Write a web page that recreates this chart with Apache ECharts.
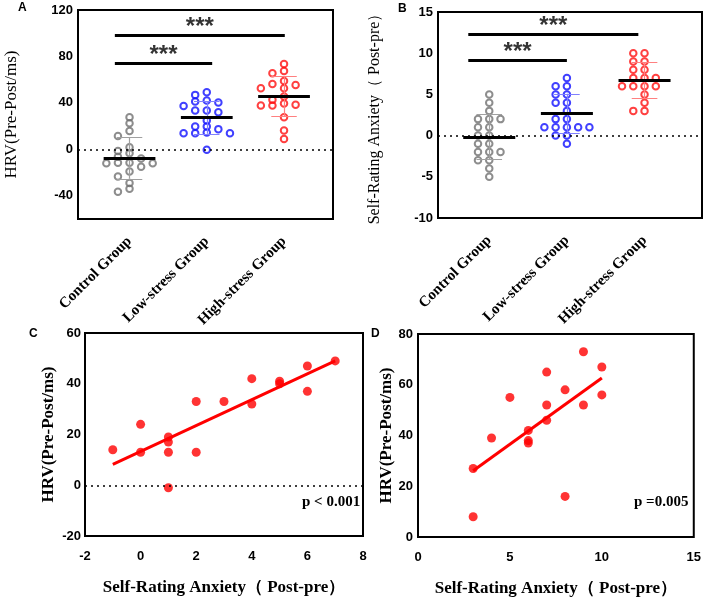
<!DOCTYPE html>
<html>
<head>
<meta charset="utf-8">
<script src="https://cdn.jsdelivr.net/npm/echarts@6/dist/echarts.min.js"></script>
<style>
html, body { margin: 0; padding: 0; background: #fff; }
#chart { width: 704px; height: 600px; }
</style>
</head>
<body>
<div id="chart"></div>
<script>
// groups on the dot plots
var groups = ['Control Group', 'Low-stress Group', 'High-stress Group'];

// panel A: HRV (pre-post, ms)
var hrvControl = [27.6, 22.4, 15.8, 11.5, 1.7, -1.4, -3.4, -6.3, -7.8, -11.5, -11.5, -12, -12, -15, -19, -23.5, -29, -33.9, -36.5];
var hrvLow = [49.2, 46.9, 42, 40.3, 41.1, 37.4, 33.4, 33.4, 32, 24.8, 19.6, 19.6, 17.4, 13.9, 13.9, 13.9, 14.5, -0.4];
var hrvHigh = [73.5, 65.5, 67.5, 55.5, 56.3, 58.9, 52.6, 52.6, 45.4, 42.6, 38.3, 37.7, 37.7, 39.4, 27.7, 16.2, 8.8];

// panel B: self-rating anxiety (post-pre)
var sasControl = [5, 4, 3, 2, 2, 2, 1, 1, 0, 0, -1, -1, -2, -2, -2, -3, -3, -4, -5];
var sasLow = [7, 6, 6, 5, 5, 4, 4, 3, 2, 2, 1, 1, 1, 1, 1, 0, 0, -1];
var sasHigh = [10, 10, 9, 9, 8, 8, 7, 7, 7, 6, 6, 6, 6, 5, 4, 3, 3];

// significance brackets: [from, to, height]
var sigA = [[0.81, 2.07, 74], [0.81, 3.01, 98.5]];
var sigB = [[0.73, 2.0, 9.1], [0.73, 2.92, 12.3]];

// panel C
var cX = [-1, 0, 0, 1, 1, 1, 1, 2, 2, 3, 4, 4, 5, 5, 6, 6, 7];
var cY = [14, 24, 13, 19, 17, 13, -1, 33, 13, 33, 42, 32, 41, 40, 47, 37, 49];
// panel D
var dX = [3, 3, 4, 5, 6, 6, 6, 7, 7, 7, 8, 8, 9, 9, 10, 10];
var dY = [27, 8, 39, 55, 42, 38, 37, 65, 52, 46, 58, 16, 73, 52, 67, 56];

var pC = 'p < 0.001';
var pD = 'p =0.005';

var serif = 'Liberation Serif';
var sans = 'Liberation Sans';

function mean(a) {
    var s = 0;
    a.forEach(function (v) { s += v; });
    return s / a.length;
}

function sd(a) {
    var m = mean(a), s = 0;
    a.forEach(function (v) { s += (v - m) * (v - m); });
    return Math.sqrt(s / (a.length - 1));
}

function fit(xs, ys) {
    var mx = mean(xs), my = mean(ys), sxy = 0, sxx = 0;
    for (var i = 0; i < xs.length; i++) {
        sxy += (xs[i] - mx) * (ys[i] - my);
        sxx += (xs[i] - mx) * (xs[i] - mx);
    }
    var k = sxy / sxx;
    return {k: k, b: my - k * mx};
}

// crude beeswarm: each point goes to the closest free column
function swarm(vals, center, pxPerUnit, step, gap) {
    var sorted = vals.slice().sort(function (a, b) { return b - a; });
    var cols = {};
    var out = [];
    sorted.forEach(function (v) {
        for (var n = 0; n < 20; n++) {
            var c = n === 0 ? 0 : (n % 2 ? -(n + 1) / 2 : n / 2);
            var list = cols[c] || [];
            var free = list.every(function (u) { return Math.abs(u - v) * pxPerUnit >= gap; });
            if (free) {
                list.push(v);
                cols[c] = list;
                out.push([center + c * step, v]);
                break;
            }
        }
    });
    return out;
}

var series = [];

function dotGroup(idx, vals, g, color, light, pxPerUnit, step) {
    var m = mean(vals), s = sd(vals), cap = 0.165, half = 0.335;
    series.push({
        type: 'scatter', xAxisIndex: idx, yAxisIndex: idx,
        symbol: 'circle', symbolSize: 6.5, z: 2,
        itemStyle: {color: 'rgba(0,0,0,0)', borderColor: color, borderWidth: 2},
        data: swarm(vals, g, pxPerUnit, step, 5.5)
    });
    series.push({
        type: 'lines', coordinateSystem: 'cartesian2d', xAxisIndex: idx, yAxisIndex: idx, z: 3,
        lineStyle: {color: light, width: 1.2, opacity: 1},
        data: [
            {coords: [[g, m - s], [g, m + s]]},
            {coords: [[g - cap, m + s], [g + cap, m + s]]},
            {coords: [[g - cap, m - s], [g + cap, m - s]]}
        ]
    });
    series.push({
        type: 'lines', coordinateSystem: 'cartesian2d', xAxisIndex: idx, yAxisIndex: idx, z: 4,
        lineStyle: {color: '#000', width: 3, opacity: 1},
        data: [{coords: [[g - half, m], [g + half, m]]}]
    });
}

function sigMarks(idx, sig) {
    series.push({
        type: 'lines', coordinateSystem: 'cartesian2d', xAxisIndex: idx, yAxisIndex: idx, z: 4,
        lineStyle: {color: '#000', width: 3, opacity: 1},
        data: sig.map(function (b) { return {coords: [[b[0], b[2]], [b[1], b[2]]]}; })
    });
    series.push({
        type: 'scatter', xAxisIndex: idx, yAxisIndex: idx, symbolSize: 1, z: 5,
        itemStyle: {color: 'rgba(0,0,0,0)'},
        label: {
            show: true, position: 'inside', offset: [0, -8], formatter: '***',
            fontFamily: sans, fontWeight: 'bold', fontSize: 24, color: '#000'
        },
        data: sig.map(function (b) { return [(b[0] + b[1]) / 2, b[2]]; })
    });
}

function zeroLine() {
    return {
        silent: true, symbol: 'none', label: {show: false},
        lineStyle: {type: [2, 4], color: '#000', width: 1.5},
        data: [{yAxis: 0}]
    };
}

// panel A
dotGroup(0, hrvControl, 1, '#707070', '#a0a0a0', 209 / 180, 0.15);
dotGroup(0, hrvLow, 2, '#1010ff', '#8080ff', 209 / 180, 0.15);
dotGroup(0, hrvHigh, 3, '#ff1010', '#ff8080', 209 / 180, 0.15);
series[0].markLine = zeroLine();
sigMarks(0, sigA);

// panel B
var bStart = series.length;
dotGroup(1, sasControl, 1, '#707070', '#a0a0a0', 206 / 25, 0.145);
dotGroup(1, sasLow, 2, '#1010ff', '#8080ff', 206 / 25, 0.145);
dotGroup(1, sasHigh, 3, '#ff1010', '#ff8080', 206 / 25, 0.145);
series[bStart].markLine = zeroLine();
sigMarks(1, sigB);

// panels C and D: scatter + fitted line
function regPanel(idx, xs, ys, zero) {
    var f = fit(xs, ys);
    var x0 = Math.min.apply(null, xs), x1 = Math.max.apply(null, xs);
    var sc = {
        type: 'scatter', xAxisIndex: idx, yAxisIndex: idx, symbolSize: 9, z: 3,
        itemStyle: {color: '#ff0000'},
        data: xs.map(function (x, i) { return [x, ys[i]]; })
    };
    if (zero) sc.markLine = zeroLine();
    series.push(sc);
    series.push({
        type: 'line', xAxisIndex: idx, yAxisIndex: idx, showSymbol: false, z: 4,
        lineStyle: {color: '#ff0000', width: 3},
        data: [[x0, f.k * x0 + f.b], [x1, f.k * x1 + f.b]]
    });
}
regPanel(2, cX, cY, true);
regPanel(3, dX, dY, false);

var tickLabel = {color: '#000', fontFamily: sans, fontWeight: 'bold', fontSize: 13};

function gridBox(left, top, width, height) {
    return {left: left, top: top, width: width, height: height, show: true, borderColor: '#000', borderWidth: 2};
}

function catAxis(idx, min, max) {
    return {
        gridIndex: idx, type: 'value', min: min, max: max,
        axisLine: {show: false}, axisTick: {show: false}, splitLine: {show: false},
        axisLabel: {
            customValues: [1, 2, 3], rotate: 45, margin: 20,
            color: '#000', fontFamily: serif, fontWeight: 'bold', fontSize: 15,
            formatter: function (v) { return groups[Math.round(v) - 1]; }
        }
    };
}

function numAxis(idx, min, max, interval, extra) {
    var ax = {
        gridIndex: idx, type: 'value', min: min, max: max, interval: interval,
        axisLine: {show: false}, axisTick: {show: false}, splitLine: {show: false},
        axisLabel: Object.assign({margin: 5}, tickLabel)
    };
    return Object.assign(ax, extra || {});
}

var option = {
    animation: false,
    backgroundColor: '#fff',
    grid: [
        gridBox(78, 10, 255, 209),
        gridBox(438, 12, 264, 206),
        gridBox(85, 333, 278, 203),
        gridBox(418, 334, 277, 203)
    ],
    xAxis: [
        catAxis(0, 0.333, 3.634),
        catAxis(1, 0.34, 3.74),
        numAxis(2, -2, 8, 2, {
            axisLabel: Object.assign({margin: 14}, tickLabel),
            name: 'Self-Rating Anxiety（ Post-pre）', nameLocation: 'middle', nameGap: 43,
            nameTextStyle: {color: '#000', fontFamily: serif, fontWeight: 'bold', fontSize: 17}
        }),
        numAxis(3, 0, 15, 5, {
            axisLabel: Object.assign({margin: 14}, tickLabel),
            name: 'Self-Rating Anxiety（ Post-pre）', nameLocation: 'middle', nameGap: 43,
            nameTextStyle: {color: '#000', fontFamily: serif, fontWeight: 'bold', fontSize: 17}
        })
    ],
    yAxis: [
        numAxis(0, -60, 120, 20, {
            axisLabel: Object.assign({margin: 5, formatter: function (v) { return v % 40 === 0 ? v : ''; }}, tickLabel),
            name: 'HRV(Pre-Post/ms)', nameLocation: 'middle', nameGap: 58,
            nameTextStyle: {color: '#000', fontFamily: serif, fontSize: 17}
        }),
        numAxis(1, -10, 15, 5, {
            name: 'Self-Rating Anxiety（ Post-pre）', nameLocation: 'middle', nameGap: 55,
            nameTextStyle: {color: '#000', fontFamily: serif, fontSize: 16}
        }),
        numAxis(2, -20, 60, 20, {
            axisLabel: Object.assign({margin: 4}, tickLabel),
            name: 'HRV(Pre-Post/ms)', nameLocation: 'middle', nameGap: 28,
            nameTextStyle: {color: '#000', fontFamily: serif, fontWeight: 'bold', fontSize: 17}
        }),
        numAxis(3, 0, 80, 20, {
            name: 'HRV(Pre-Post/ms)', nameLocation: 'middle', nameGap: 15,
            nameTextStyle: {color: '#000', fontFamily: serif, fontWeight: 'bold', fontSize: 17}
        })
    ],
    graphic: [
        {type: 'text', left: 18, top: 2, style: {text: 'A', font: 'bold 12px ' + sans, fill: '#000'}},
        {type: 'text', left: 398, top: 3, style: {text: 'B', font: 'bold 12px ' + sans, fill: '#000'}},
        {type: 'text', left: 29, top: 328, style: {text: 'C', font: 'bold 12px ' + sans, fill: '#000'}},
        {type: 'text', left: 371, top: 328, style: {text: 'D', font: 'bold 12px ' + sans, fill: '#000'}},
        {type: 'text', left: 302, top: 495, style: {text: pC, font: 'bold 15px ' + serif, fill: '#000'}},
        {type: 'text', left: 634, top: 495, style: {text: pD, font: 'bold 15px ' + serif, fill: '#000'}}
    ],
    series: series
};

var chart = echarts.init(document.getElementById('chart'));
chart.setOption(option);
</script>
</body>
</html>
